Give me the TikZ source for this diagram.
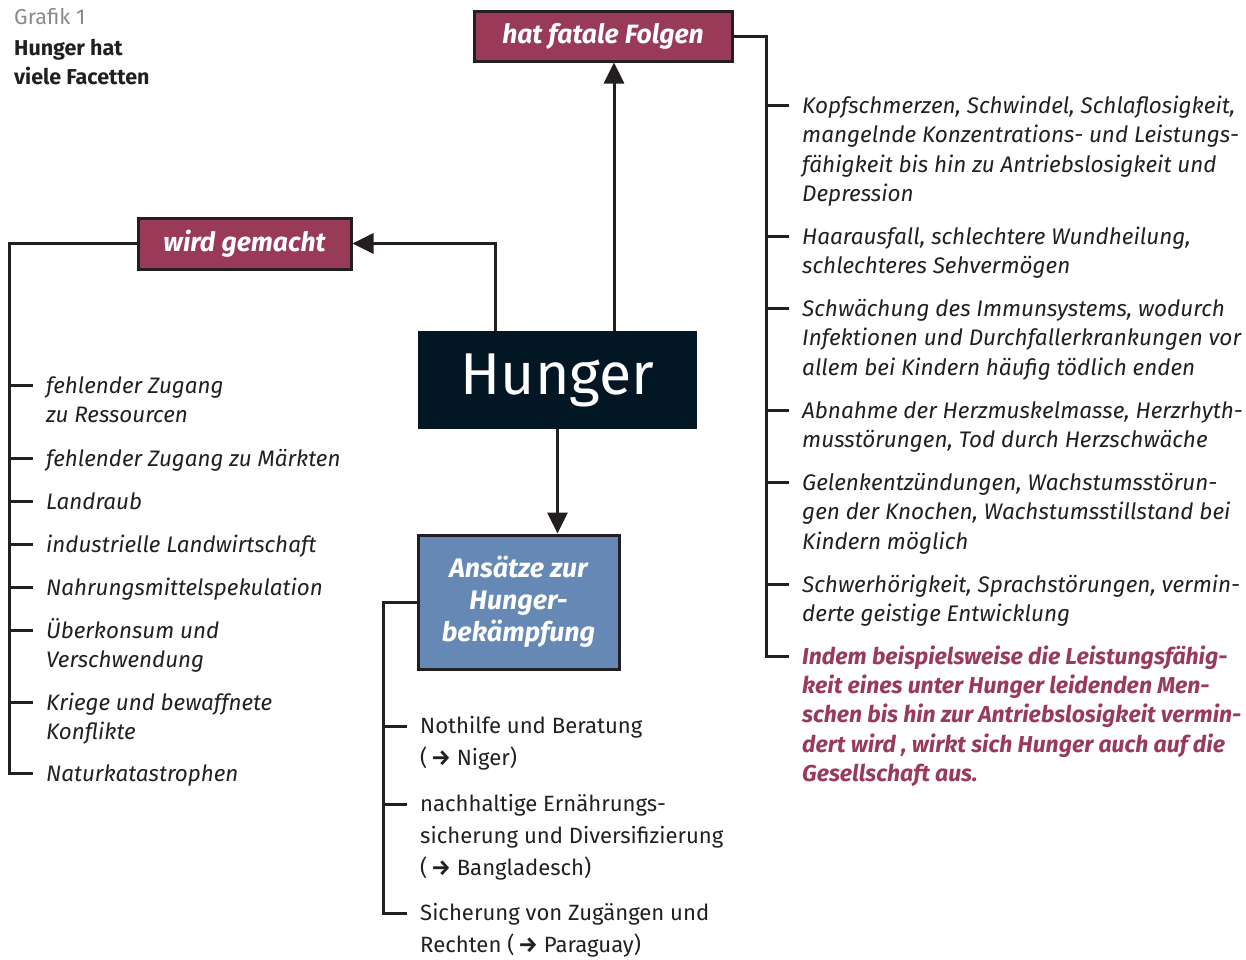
\documentclass[tikz,border=0pt]{standalone}
\usepackage{fontspec}
\setmainfont{Fira Sans}
\usetikzlibrary{arrows.meta}
\definecolor{maroon}{HTML}{993A58}
\definecolor{navy}{HTML}{021624}
\definecolor{steel}{HTML}{6589B4}
\definecolor{ink}{HTML}{231F20}
\definecolor{greytxt}{HTML}{8A8A8A}
\newcommand\hgtop{\rule{0pt}{1em}}
\newcommand\harr{\textbf{→}}
\tikzset{
  conn/.style={draw=ink, line width=3pt},
  arr/.style={conn, -{Triangle[length=21pt,width=20pt]}},
  headbox/.style={draw=ink, line width=3pt, fill=maroon, text=white, inner sep=0pt,
    font=\fontsize{26.5}{32}\selectfont\bfseries\itshape},
  itemR/.style={anchor=north west, inner sep=0pt, align=left, text=ink,
    font=\fontsize{22.5}{29.5}\selectfont\itshape},
  itemL/.style={anchor=north west, inner sep=0pt, align=left, text=ink,
    font=\fontsize{22.4}{29}\selectfont\itshape},
  itemB/.style={anchor=north west, inner sep=0pt, align=left, text=ink,
    font=\fontsize{22.1}{32}\selectfont},
}
\begin{document}
\begin{tikzpicture}[x=1pt,y=-1pt]
\useasboundingbox (0,0) rectangle (1246,959);

% title
\node[anchor=north west, inner sep=0pt, text=greytxt, font=\fontsize{21.5}{24}\selectfont] (t1) at (14,2.5) {\hgtop Grafik 1};
\node[anchor=north west, inner sep=0pt, align=left, text=ink, font=\fontsize{21.5}{29}\selectfont\bfseries] (t2) at (14,33.5) {\hgtop Hunger hat\\viele Facetten};

% boxes
\node[headbox, minimum width=258pt, minimum height=50pt] (fatal) at (603,36) {hat fatale Folgen};
\node[headbox, minimum width=213pt, minimum height=51pt] (wird) at (244.5,243.5) {wird gemacht};
\node[fill=navy, text=white, inner sep=0pt, minimum width=279pt, minimum height=98pt,
  font=\fontsize{59}{70}\selectfont] (hunger) at (557.5,380) {Hunger};
\node[draw=ink, line width=3pt, fill=steel, text=white, inner sep=0pt, minimum width=201pt, minimum height=134pt,
  align=center, font=\fontsize{26.8}{32}\selectfont\bfseries\itshape] (ansatz) at (518.5,602) {Ansätze zur\\Hunger-\\bekämpfung};

% main arrows
\coordinate (hUp) at (614,331);
\coordinate (hLeft) at (495,331);
\draw[arr] (hUp) -- (hUp |- fatal.south);
\draw[arr] (hLeft) |- (wird.east);
\draw[arr] (hunger.south) -- (hunger.south |- ansatz.north);

% right bracket
\coordinate (rEnd) at (766,656);
\draw[conn] (fatal.east) -| (rEnd) -- ++(23,0);
\foreach \y in {105,236,308,410,482,584}
  \draw[conn] (766,\y) -- (789,\y);

\node[itemR] (r1) at (802,90.5) {\hgtop Kopfschmerzen, Schwindel, Schlaflosigkeit,\\mangelnde Konzentrations- und Leistungs-\\fähigkeit bis hin zu Antriebslosigkeit und\\Depression};
\node[itemR] (r2) at (802,221.5) {\hgtop Haarausfall, schlechtere Wundheilung,\\schlechteres Sehvermögen};
\node[itemR] (r3) at (802,293.5) {\hgtop Schwächung des Immunsystems, wodurch\\Infektionen und Durchfallerkrankungen vor\\allem bei Kindern häufig tödlich enden};
\node[itemR] (r4) at (802,395.5) {\hgtop Abnahme der Herzmuskelmasse, Herzrhyth-\\musstörungen, Tod durch Herzschwäche};
\node[itemR] (r5) at (802,467.5) {\hgtop Gelenkentzündungen, Wachstumsstörun-\\gen der Knochen, Wachstumsstillstand bei\\Kindern möglich};
\node[itemR] (r6) at (802,569.5) {\hgtop Schwerhörigkeit, Sprachstörungen, vermin-\\derte geistige Entwicklung};
\node[itemR, text=maroon, font=\fontsize{23}{29.3}\selectfont\bfseries\itshape] (r7) at (802,641) {\hgtop Indem beispielsweise die Leistungsfähig-\\keit eines unter Hunger leidenden Men-\\schen bis hin zur Antriebslosigkeit vermin-\\dert wird , wirkt sich Hunger auch auf die\\Gesellschaft aus.};

% left bracket
\coordinate (lEnd) at (9,773);
\draw[conn] (wird.west) -| (lEnd) -- ++(24,0);
\foreach \y in {385,458,501,544,587,630,702}
  \draw[conn] (9,\y) -- (33,\y);

\node[itemL] (l1) at (46,370.6) {\hgtop fehlender Zugang\\zu Ressourcen};
\node[itemL] (l2) at (46,443.6) {\hgtop fehlender Zugang zu Märkten};
\node[itemL] (l3) at (46,486.6) {\hgtop Landraub};
\node[itemL] (l4) at (46,529.6) {\hgtop industrielle Landwirtschaft};
\node[itemL] (l5) at (46,572.6) {\hgtop Nahrungsmittelspekulation};
\node[itemL] (l6) at (46,615.6) {\hgtop Überkonsum und\\Verschwendung};
\node[itemL] (l7) at (46,687.6) {\hgtop Kriege und bewaffnete\\Konflikte};
\node[itemL] (l8) at (46,758.6) {\hgtop Naturkatastrophen};

% bottom bracket
\coordinate (bEnd) at (383,913);
\draw[conn] (ansatz.west) -| (bEnd) -- ++(24,0);
\foreach \y in {726,804}
  \draw[conn] (383,\y) -- (407,\y);

\node[itemB] (b1) at (420,711.4) {\hgtop Nothilfe und Beratung\\(\,\harr\ Niger)};
\node[itemB] (b2) at (420,789.4) {\hgtop nachhaltige Ernährungs-\\sicherung und Diversifizierung\\(\,\harr\ Bangladesch)};
\node[itemB] (b3) at (420,898.4) {\hgtop Sicherung von Zugängen und\\Rechten (\,\harr\ Paraguay)};
\end{tikzpicture}
\end{document}
